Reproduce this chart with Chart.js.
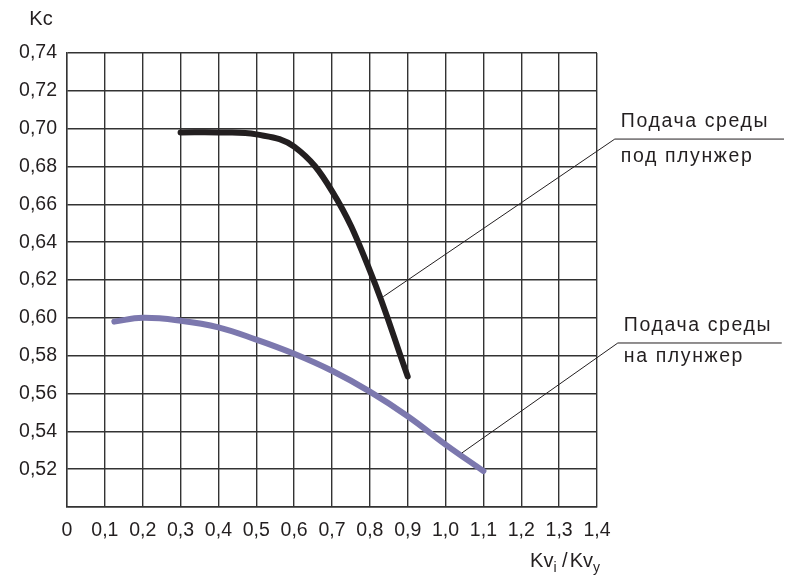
<!DOCTYPE html>
<html>
<head>
<meta charset="utf-8">
<script src="https://cdn.jsdelivr.net/npm/chart.js@4/dist/chart.umd.min.js"></script>
<style>
  html, body { margin: 0; padding: 0; background: #fff; }
  canvas { display: block; }
</style>
</head>
<body>
<canvas id="c" width="787" height="576"></canvas>
<script>
// Kc as a function of Kv_i / Kv_y for the two feed directions
const feedUnderX = [0.3, 0.4, 0.5, 0.6, 0.7, 0.8, 0.9];
const feedUnderY = [0.698, 0.698, 0.697, 0.6905, 0.667, 0.625, 0.569];

const feedOnX = [0.125, 0.2, 0.3, 0.4, 0.5, 0.6, 0.7, 0.8, 0.9, 1.0, 1.1];
const feedOnY = [0.598, 0.600, 0.5985, 0.595, 0.5885, 0.581, 0.572, 0.561, 0.548, 0.533, 0.519];

const seriesNames = ['Подача среды под плунжер', 'Подача среды на плунжер'];
const calloutLines = [['Подача среды', 'под плунжер'], ['Подача среды', 'на плунжер']];

// leader lines: point on curve, elbow, end of the underline (data units)
const calloutUnder = [[0.8355, 0.6112], [1.447, 0.6945], [1.894, 0.6945]];
const calloutOn = [[1.0433, 0.5286], [1.455, 0.5867], [1.888, 0.5867]];

const axisTitleY = 'Kc';

const toPoints = (xs, ys) => xs.map((x, i) => ({ x, y: ys[i] }));
const comma = s => s.replace('.', ',');

const FONT = '"Liberation Sans", Arial, Helvetica, sans-serif';
const TEXT = '#231f20';
const GRID = '#333333';

const annotations = {
  id: 'annotations',
  afterDraw(chart) {
    const { ctx, scales: { x, y } } = chart;
    ctx.save();
    // leader lines
    ctx.strokeStyle = TEXT;
    ctx.lineWidth = 1;
    [calloutUnder, calloutOn].forEach(pts => {
      ctx.beginPath();
      pts.forEach(([px, py], i) => {
        const X = x.getPixelForValue(px), Y = y.getPixelForValue(py);
        if (i === 0) ctx.moveTo(X, Y); else ctx.lineTo(X, Y);
      });
      ctx.stroke();
    });
    // callout text
    ctx.fillStyle = TEXT;
    ctx.font = '19.5px ' + FONT;
    ctx.letterSpacing = '1.6px';
    ctx.textAlign = 'left';
    ctx.textBaseline = 'alphabetic';
    [[calloutUnder, calloutLines[0], 23], [calloutOn, calloutLines[1], 19]].forEach(([pts, lines, below]) => {
      const ex = x.getPixelForValue(pts[1][0]) + 6;
      const ey = y.getPixelForValue(pts[1][1]);
      ctx.fillText(lines[0], ex, ey - 12);
      ctx.fillText(lines[1], ex, ey + below);
    });
    ctx.letterSpacing = '0px';
    // y axis title
    ctx.font = '20px ' + FONT;
    ctx.textAlign = 'center';
    ctx.fillText(axisTitleY, x.left - 26, 25);
    // x axis title with subscripts
    const right = x.right + 1;
    const base = 567;
    const parts = [['Kv', 20, 0], ['i', 14, 5], [' /', 20, 0], ['Kv', 20, 0], ['y', 14, 5]];
    let w = 0;
    parts.forEach(([t, s]) => { ctx.font = s + 'px ' + FONT; w += ctx.measureText(t).width; });
    let cx = right - w;
    ctx.textAlign = 'left';
    parts.forEach(([t, s, dy]) => {
      ctx.font = s + 'px ' + FONT;
      ctx.fillText(t, cx, base + dy);
      cx += ctx.measureText(t).width + (t === ' /' ? 2 : 0);
    });
    ctx.restore();
  }
};

new Chart(document.getElementById('c'), {
  type: 'line',
  data: {
    datasets: [
      {
        label: seriesNames[0],
        data: toPoints(feedUnderX, feedUnderY),
        borderColor: '#231f20',
        borderWidth: 6,
        borderCapStyle: 'round',
        borderJoinStyle: 'round',
        tension: 0.4,
        pointRadius: 0,
        fill: false
      },
      {
        label: seriesNames[1],
        data: toPoints(feedOnX, feedOnY),
        borderColor: '#7c78ae',
        borderWidth: 6,
        borderCapStyle: 'round',
        borderJoinStyle: 'round',
        tension: 0.4,
        pointRadius: 0,
        fill: false
      }
    ]
  },
  options: {
    responsive: false,
    animation: false,
    events: [],
    layout: { padding: { top: 53, right: 190, bottom: 0, left: 0 } },
    plugins: { legend: { display: false }, tooltip: { enabled: false } },
    scales: {
      x: {
        type: 'linear',
        min: 0,
        max: 1.4,
        afterFit: s => { s.height = 69; },
        ticks: {
          stepSize: 0.1,
          color: TEXT,
          padding: 12,
          maxRotation: 0,
          autoSkip: false,
          font: { family: FONT, size: 19.5 },
          callback: v => (Math.abs(v) < 1e-9 ? '0' : comma(v.toFixed(1)))
        },
        grid: { color: GRID, lineWidth: 1.4, drawTicks: false },
        border: { color: GRID, width: 1.4 }
      },
      y: {
        min: 0.5,
        max: 0.74,
        afterFit: s => { s.width = 67; },
        ticks: {
          stepSize: 0.02,
          color: TEXT,
          padding: 10,
          autoSkip: false,
          font: { family: FONT, size: 19.5 },
          callback: v => (Math.abs(v - 0.5) < 1e-9 ? '' : comma(v.toFixed(2)))
        },
        grid: { color: GRID, lineWidth: 1.4, drawTicks: false },
        border: { color: GRID, width: 1.4 }
      }
    }
  },
  plugins: [annotations]
});
</script>
</body>
</html>
